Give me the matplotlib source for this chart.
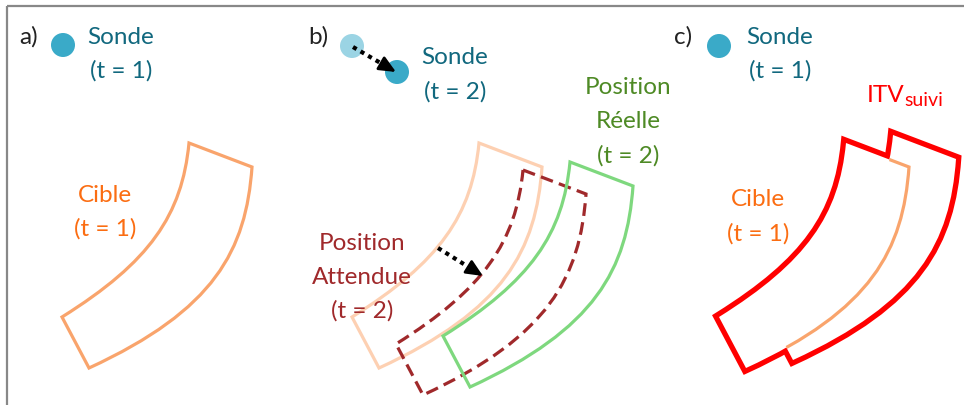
import matplotlib
matplotlib.use("Agg")
import matplotlib.pyplot as plt
from matplotlib.path import Path
from matplotlib.patches import PathPatch, Circle

plt.rcParams["font.family"] = ["Lato", "DejaVu Sans"]

# target outline (pixel coords of the reference), cubic Bezier control points
INNER_X = [189, 182, 150, 62]
INNER_Y = [143, 215, 262, 317]
OUTER_X = [252, 246, 215, 89]
OUTER_Y = [167, 250, 310, 368]

# where each copy of the target sits (shift from panel a)
SHIFT_B_PREV = (290, 0)
SHIFT_B_EXPECTED = (334, 27)
SHIFT_B_REAL = (381, 19)
SHIFT_C_TARGET = (657, 0)
SHIFT_C_TRACKED = (704, -8)

# probe positions
PROBE_A = (63, 45)
PROBE_B_OLD = (352, 46)
PROBE_B_NEW = (397, 72)
PROBE_C = (719, 46)
PROBE_R = 12

ARROW_PROBE = [(353, 47), (396, 72)]
ARROW_TARGET = [(438, 248), (483, 276)]

C_PROBE = "#3aaac8"
C_PROBE_OLD = "#9bd4e4"
C_PROBE_TXT = "#11687e"
C_TARGET = "#f9a46c"
C_TARGET_LIGHT = "#fdd0b2"
C_TARGET_TXT = "#fb6d12"
C_EXPECTED = "#a0292b"
C_REAL = "#7ed87e"
C_REAL_TXT = "#4e8a25"
C_ITV = "#ff0000"

FS = 17.5


def target_path(shift):
    dx, dy = shift
    ix = [x + dx for x in INNER_X]
    iy = [y + dy for y in INNER_Y]
    ox = [x + dx for x in OUTER_X]
    oy = [y + dy for y in OUTER_Y]
    verts = [(ix[0], iy[0]), (ox[0], oy[0]),
             (ox[1], oy[1]), (ox[2], oy[2]), (ox[3], oy[3]),
             (ix[3], iy[3]),
             (ix[2], iy[2]), (ix[1], iy[1]), (ix[0], iy[0]),
             (ix[0], iy[0])]
    codes = [Path.MOVETO, Path.LINETO,
             Path.CURVE4, Path.CURVE4, Path.CURVE4,
             Path.LINETO,
             Path.CURVE4, Path.CURVE4, Path.CURVE4,
             Path.CLOSEPOLY]
    return Path(verts, codes)


def dotted_arrow(ax, pts):
    (x0, y0), (x1, y1) = pts
    # dotted shaft stops short of the tip, solid head covers the rest
    f = 0.72
    xm, ym = x0 + f * (x1 - x0), y0 + f * (y1 - y0)
    ax.plot([x0, xm], [y0, ym], color="black", lw=3.0,
            ls=(0, (1, 1.1)), dash_capstyle="butt", zorder=6)
    ax.annotate("", xy=(x1, y1), xytext=(xm, ym),
                arrowprops=dict(arrowstyle="-|>,head_length=1.0,head_width=0.45",
                                color="black", lw=2.0, shrinkA=0, shrinkB=0),
                zorder=6)


def label(ax, x, y, lines, color, dy=34, size=FS):
    for i, s in enumerate(lines):
        ax.text(x, y + i * dy, s, color=color, fontsize=size,
                ha="center", va="center", zorder=7)


fig = plt.figure(figsize=(9.64, 4.05), dpi=100)
ax = fig.add_axes([0, 0, 1, 1])
ax.set_xlim(0, 964)
ax.set_ylim(405, 0)
ax.axis("off")

# frame
ax.plot([7, 964], [6, 6], color="#888888", lw=1.6, solid_capstyle="butt")
ax.plot([7, 7], [6, 405], color="#888888", lw=1.6, solid_capstyle="butt")

# ---- panel a
ax.text(29, 37, "a)", fontsize=FS, color="#222222", ha="center", va="center")
ax.add_patch(Circle(PROBE_A, PROBE_R, color=C_PROBE, lw=0))
label(ax, 121, 37, ["Sonde", "(t = 1)"], C_PROBE_TXT)
ax.add_patch(PathPatch(target_path((0, 0)), fill=False, ec=C_TARGET, lw=2.3))
label(ax, 105, 195, ["Cible", "(t = 1)"], C_TARGET_TXT)

# ---- panel b
ax.text(318, 37, "b)", fontsize=FS, color="#222222", ha="center", va="center")
ax.add_patch(Circle(PROBE_B_OLD, PROBE_R, color=C_PROBE_OLD, lw=0))
ax.add_patch(Circle(PROBE_B_NEW, PROBE_R, color=C_PROBE, lw=0))
dotted_arrow(ax, ARROW_PROBE)
label(ax, 455, 58, ["Sonde", "(t = 2)"], C_PROBE_TXT)
ax.add_patch(PathPatch(target_path(SHIFT_B_PREV), fill=False, ec=C_TARGET_LIGHT,
                       lw=2.3, zorder=2))
ax.add_patch(PathPatch(target_path(SHIFT_B_EXPECTED), fill=False, ec=C_EXPECTED,
                       lw=2.3, ls=(0, (4, 2)), zorder=3))
ax.add_patch(PathPatch(target_path(SHIFT_B_REAL), fill=False, ec=C_REAL,
                       lw=2.3, zorder=4))
dotted_arrow(ax, ARROW_TARGET)
label(ax, 628, 88, ["Position", "Réelle", "(t = 2)"], C_REAL_TXT)
label(ax, 362, 243, ["Position", "Attendue", "(t = 2)"], C_EXPECTED)

# ---- panel c
ax.text(683, 37, "c)", fontsize=FS, color="#222222", ha="center", va="center")
ax.add_patch(Circle(PROBE_C, PROBE_R, color=C_PROBE, lw=0))
label(ax, 780, 37, ["Sonde", "(t = 1)"], C_PROBE_TXT)
# tracked volume = union of the two outlines: thick red edges, white interiors on top
for sh in (SHIFT_C_TARGET, SHIFT_C_TRACKED):
    ax.add_patch(PathPatch(target_path(sh), fill=False, ec=C_ITV, lw=7.6,
                           joinstyle="miter", zorder=2))
for sh in (SHIFT_C_TARGET, SHIFT_C_TRACKED):
    ax.add_patch(PathPatch(target_path(sh), fc="white", ec="none", zorder=3))
clip = PathPatch(target_path(SHIFT_C_TRACKED), transform=ax.transData)
inner = PathPatch(target_path(SHIFT_C_TARGET), fill=False, ec=C_TARGET, lw=2.3,
                  zorder=4)
ax.add_patch(inner)
inner.set_clip_path(clip)
ax.text(867, 95, "ITV", fontsize=FS, color=C_ITV, ha="left", va="center")
ax.text(904, 101, "suivi", fontsize=FS * 0.8, color=C_ITV, ha="left", va="center")
label(ax, 758, 200, ["Cible", "(t = 1)"], C_TARGET_TXT)

fig.savefig("out.png", dpi=100)
